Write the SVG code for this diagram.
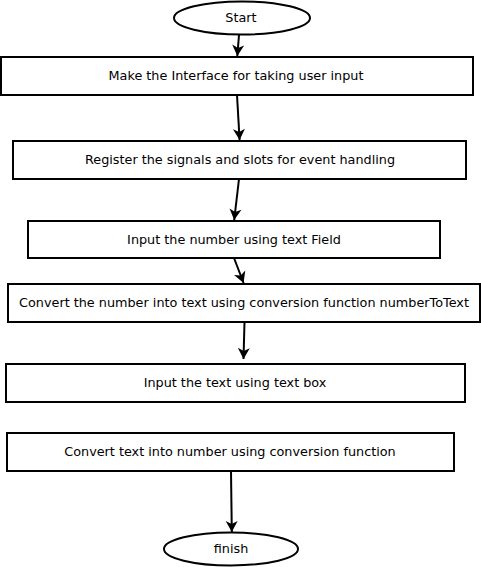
<svg xmlns="http://www.w3.org/2000/svg" width="481" height="567" viewBox="0 0 481 567">
<defs>
<marker id="ah" markerUnits="userSpaceOnUse" markerWidth="14" markerHeight="14" refX="0" refY="0" viewBox="-12 -7 14 14" orient="auto">
<path d="M0,0 L-11,-6 L-8,0 L-11,6 Z" fill="#000"/>
</marker>
<style>
.n{fill:#fff;stroke:#000;stroke-width:2}
.t{font-family:"DejaVu Sans",sans-serif;font-size:12.8px;fill:#000;text-anchor:middle;dominant-baseline:central}
.c{stroke:#000;stroke-width:2;fill:none;marker-end:url(#ah)}
</style>
</defs>
<rect width="481" height="567" fill="#fff"/>
<g id="connectors">
<line class="c" x1="239" y1="35" x2="237.3" y2="56"/>
<line class="c" x1="237" y1="95" x2="239.6" y2="140"/>
<line class="c" x1="239" y1="179" x2="234.2" y2="220"/>
<line class="c" x1="234" y1="258" x2="243.6" y2="283"/>
<line class="c" x1="244.5" y1="322" x2="243.5" y2="359"/>
<line class="c" x1="231" y1="471" x2="231.8" y2="532"/>
</g>
<g id="start"><ellipse class="n" cx="242" cy="18" rx="68" ry="16.5"/><text class="t" x="241" y="17">Start</text></g>
<g id="n1"><rect class="n" x="1" y="57" width="472" height="38"/><text class="t" x="236" y="75">Make the Interface for taking user input</text></g>
<g id="n2"><rect class="n" x="13" y="141" width="453" height="38"/><text class="t" x="240" y="159">Register the signals and slots for event handling</text></g>
<g id="n3"><rect class="n" x="28" y="221" width="412" height="37"/><text class="t" x="234" y="239">Input the number using text Field</text></g>
<g id="n4"><rect class="n" x="8" y="284" width="472" height="38"/><text class="t" x="244" y="302">Convert the number into text using conversion function numberToText</text></g>
<g id="n5"><rect class="n" x="6" y="364" width="459" height="38"/><text class="t" x="235" y="382">Input the text using text box</text></g>
<g id="n6"><rect class="n" x="7" y="433" width="447" height="38"/><text class="t" x="230" y="451">Convert text into number using conversion function</text></g>
<g id="finish"><ellipse class="n" cx="231" cy="549" rx="67" ry="16.5"/><text class="t" x="231" y="548">finish</text></g>
</svg>
